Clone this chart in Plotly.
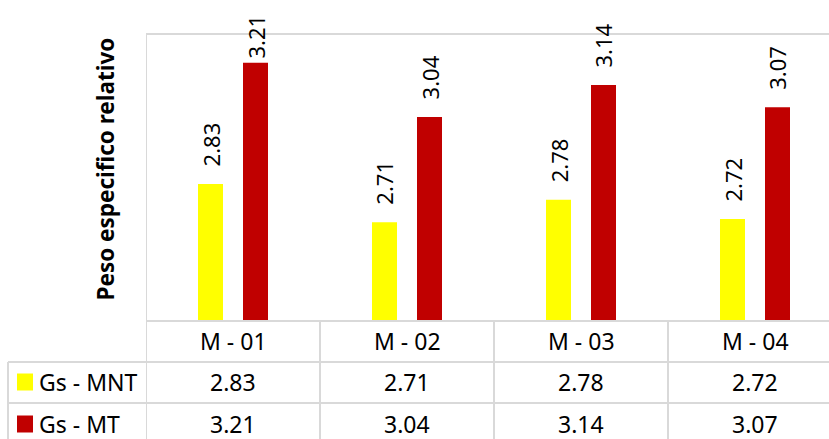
import plotly.graph_objects as go

categories = ["M - 01", "M - 02", "M - 03", "M - 04"]
series_names = ["Gs - MNT", "Gs - MT"]
gs_mnt = [2.83, 2.71, 2.78, 2.72]
gs_mt = [3.21, 3.04, 3.14, 3.07]
series_colors = ["#FFFF00", "#C00000"]
y_title = "Peso especifico relativo"

W, H = 829, 439
PL, PR, PT, PB = 146, 829, 34, 321  # plot area pixels
YMIN, YMAX = 2.4, 3.3
cat_w = 174.0
x_right = 3.5 - (842 - PR) / cat_w

FONT = "Noto Sans"
GRID = "#d9d9d9"
TS = 23  # table font size


def pxx(p):
    return (p - PL) / (PR - PL)


def pxy(p):
    return (PB - p) / (PB - PT)


fig = go.Figure()
for name, vals, col in zip(series_names, [gs_mnt, gs_mt], series_colors):
    fig.add_trace(go.Bar(x=categories, y=vals, name=name, marker_color=col,
                         marker_line_width=0, showlegend=False, hoverinfo="skip"))

annotations = []
shapes = []

# data labels
offsets = [-22.5, 22.5]
for vals, off in zip([gs_mnt, gs_mt], offsets):
    for c, v in zip(categories, vals):
        bar_top = PT + (YMAX - v) / (YMAX - YMIN) * (PB - PT)
        shift = min(15, bar_top - 15 - 46)
        annotations.append(dict(x=c, y=v, xref="x", yref="y", xshift=off, yshift=shift,
                                text=f"{v:.2f}", textangle=-90, showarrow=False,
                                xanchor="center", yanchor="bottom",
                                font=dict(family=FONT, size=22, color="#000")))

# y title
annotations.append(dict(x=pxx(105), y=pxy(169.5), xref="paper", yref="paper",
                        text=f"<b>{y_title}</b>", textangle=-90, showarrow=False,
                        xanchor="center", yanchor="middle",
                        font=dict(family=FONT, size=22.5, color="#000")))

# table text
row_centers = [341, 382, 424]
for c in categories:
    annotations.append(dict(x=c, y=pxy(row_centers[0]), xref="x", yref="paper",
                            text=c, showarrow=False, xanchor="center", yanchor="middle",
                            font=dict(family=FONT, size=TS, color="#000")))
for r, vals in enumerate([gs_mnt, gs_mt]):
    for c, v in zip(categories, vals):
        annotations.append(dict(x=c, y=pxy(row_centers[r + 1]), xref="x", yref="paper",
                                text=f"{v:.2f}", showarrow=False, xanchor="center",
                                yanchor="middle",
                                font=dict(family=FONT, size=TS, color="#000")))
    annotations.append(dict(x=pxx(37), y=pxy(row_centers[r + 1]), xref="paper", yref="paper",
                            text=series_names[r], showarrow=False, xanchor="left",
                            yanchor="middle",
                            font=dict(family=FONT, size=TS, color="#000")))
    shapes.append(dict(type="rect", xref="paper", yref="paper",
                       x0=pxx(17), x1=pxx(33), y0=pxy(row_centers[r + 1] - 8.5),
                       y1=pxy(row_centers[r + 1] + 8.5),
                       fillcolor=series_colors[r], line=dict(width=0)))

line = dict(color=GRID, width=2)
# plot border top and left
shapes.append(dict(type="line", xref="paper", yref="paper", x0=0, x1=1, y0=1, y1=1, line=line))
shapes.append(dict(type="line", xref="x", yref="paper", x0=-0.5, x1=-0.5, y0=1, y1=pxy(H + 5), line=line))
# horizontal table lines
shapes.append(dict(type="line", xref="paper", yref="paper", x0=0, x1=1, y0=0, y1=0, line=line))
for yy in [362, 403]:
    shapes.append(dict(type="line", xref="paper", yref="paper", x0=pxx(8), x1=1,
                       y0=pxy(yy), y1=pxy(yy), line=line))
# left table border
shapes.append(dict(type="line", xref="paper", yref="paper", x0=pxx(8), x1=pxx(8),
                   y0=pxy(362), y1=pxy(H + 5), line=line))
# category separators
for i in range(1, len(categories)):
    shapes.append(dict(type="line", xref="x", yref="paper", x0=i - 0.5, x1=i - 0.5,
                       y0=0, y1=pxy(H + 5), line=line))

fig.update_layout(
    width=W, height=H,
    margin=dict(l=PL, r=W - PR, t=PT, b=H - PB, pad=0),
    paper_bgcolor="white", plot_bgcolor="white",
    barmode="group", bargap=1 - 90 / cat_w, bargroupgap=20 / 45,
    xaxis=dict(range=[-0.5, x_right], showticklabels=False, showgrid=False,
               zeroline=False, showline=False, ticks=""),
    yaxis=dict(range=[YMIN, YMAX], showticklabels=False, showgrid=False,
               zeroline=False, showline=False, ticks=""),
    annotations=annotations, shapes=shapes,
    font=dict(family=FONT),
)

fig.write_html("out.html", config={"displayModeBar": False},
               post_script="document.body.style.margin='0';document.body.style.overflow='hidden';")
